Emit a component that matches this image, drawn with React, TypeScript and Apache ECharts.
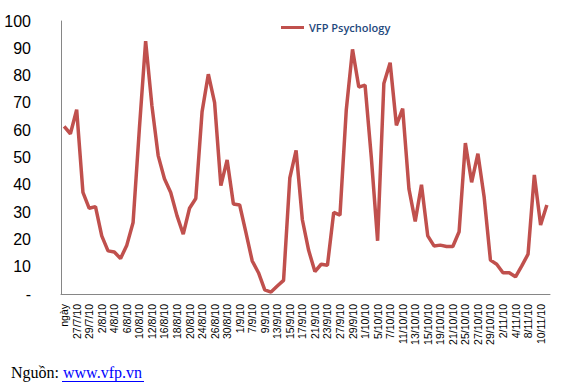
import React, { useEffect, useRef } from "react";
import * as echarts from "echarts";

const categories: string[] = [
  "ngày", "26/7/10", "27/7/10", "28/7/10", "29/7/10", "30/7/10", "2/8/10", "3/8/10", "4/8/10", "5/8/10",
  "6/8/10", "9/8/10", "10/8/10", "11/8/10", "12/8/10", "13/8/10", "16/8/10", "17/8/10", "18/8/10", "19/8/10",
  "20/8/10", "23/8/10", "24/8/10", "25/8/10", "26/8/10", "27/8/10", "30/8/10", "31/8/10", "1/9/10", "6/9/10",
  "7/9/10", "8/9/10", "9/9/10", "10/9/10", "13/9/10", "14/9/10", "15/9/10", "16/9/10", "17/9/10", "20/9/10",
  "21/9/10", "22/9/10", "23/9/10", "24/9/10", "27/9/10", "28/9/10", "29/9/10", "30/9/10", "1/10/10", "4/10/10",
  "5/10/10", "6/10/10", "7/10/10", "8/10/10", "11/10/10", "12/10/10", "13/10/10", "14/10/10", "15/10/10", "18/10/10",
  "19/10/10", "20/10/10", "21/10/10", "22/10/10", "25/10/10", "26/10/10", "27/10/10", "28/10/10", "29/10/10", "1/11/10",
  "2/11/10", "3/11/10", "4/11/10", "5/11/10", "8/11/10", "9/11/10", "10/11/10", "11/11/10",
];

const vfpPsychology: number[] = [
  61.4, 58.7, 67.5, 37.2, 31.4, 32.0, 21.3, 15.8, 15.4, 13.0,
  17.9, 26.2, 60.5, 92.6, 69.0, 50.7, 42.2, 37.2, 28.7, 21.9,
  31.4, 35.0, 66.7, 80.5, 70.1, 39.7, 49.1, 33.0, 32.6, 22.5,
  12.1, 7.8, 1.5, 0.7, 2.9, 5.0, 42.5, 52.6, 27.2, 16.0,
  8.2, 10.9, 10.5, 29.9, 28.9, 67.3, 89.6, 75.8, 76.5, 50.0,
  19.5, 77.1, 84.7, 61.8, 67.9, 38.5, 26.6, 40.0, 21.3, 17.6,
  17.9, 17.4, 17.4, 22.8, 55.3, 40.9, 51.4, 35.4, 12.4, 10.9,
  7.8, 7.8, 6.3, 10.3, 14.6, 43.6, 25.3, 32.6,
];

const seriesName = "VFP Psychology";
const sourcePrefix = "Nguồn: ";
const sourceLink = "www.vfp.vn";

export default function App() {
  const ref = useRef<HTMLDivElement>(null);

  useEffect(() => {
    if (!ref.current) return;
    const chart = echarts.init(ref.current, undefined, { renderer: "svg" });
    chart.setOption({
      animation: false,
      backgroundColor: "#ffffff",
      grid: { left: 61, right: 16, top: 21, bottom: 92, containLabel: false },
      legend: {
        data: [seriesName],
        left: 276,
        top: 17,
        icon: "rect",
        itemWidth: 23,
        itemHeight: 3,
        itemGap: 5,
        textStyle: {
          color: "#1F497D",
          fontFamily: "Open Sans",
          fontSize: 11,
          fontWeight: 600,
        },
      },
      xAxis: {
        type: "category",
        data: categories,
        boundaryGap: true,
        axisLine: { show: true, lineStyle: { color: "#868686", width: 1 } },
        axisTick: { show: false },
        axisLabel: {
          interval: 1,
          rotate: 90,
          margin: 10,
          color: "#000000",
          fontFamily: "Liberation Sans",
          fontSize: 10.5,
        },
        splitLine: { show: false },
      },
      yAxis: {
        type: "value",
        min: 0,
        max: 100,
        interval: 10,
        axisLine: { show: true, lineStyle: { color: "#868686", width: 1 } },
        axisTick: { show: false },
        axisLabel: {
          margin: 30,
          color: "#000000",
          fontFamily: "Liberation Sans",
          fontSize: 16,
          formatter: (v: number) => (v === 0 ? "-" : String(v)),
        },
        splitLine: { show: false },
      },
      series: [
        {
          name: seriesName,
          type: "line",
          data: vfpPsychology,
          showSymbol: false,
          symbol: "none",
          smooth: false,
          lineStyle: { color: "#C0504D", width: 3.5 },
          itemStyle: { color: "#C0504D" },
        },
      ],
      graphic: [
        {
          type: "text",
          left: 11,
          top: 364,
          style: {
            text: "{a|" + sourcePrefix + "}{b|" + sourceLink + "}",
            rich: {
              a: { fontFamily: "Liberation Serif", fontSize: 16, fill: "#000000" },
              b: { fontFamily: "Liberation Serif", fontSize: 16, fill: "#0000FF" },
            },
          },
        },
        {
          type: "line",
          shape: { x1: 62, y1: 381.5, x2: 144, y2: 381.5 },
          style: { stroke: "#0000FF", lineWidth: 1 },
        },
      ],
    });
    return () => chart.dispose();
  }, []);

  return (
    <div
      ref={ref}
      style={{ position: "absolute", left: 0, top: 0, width: 566, height: 386, background: "#fff" }}
    />
  );
}
